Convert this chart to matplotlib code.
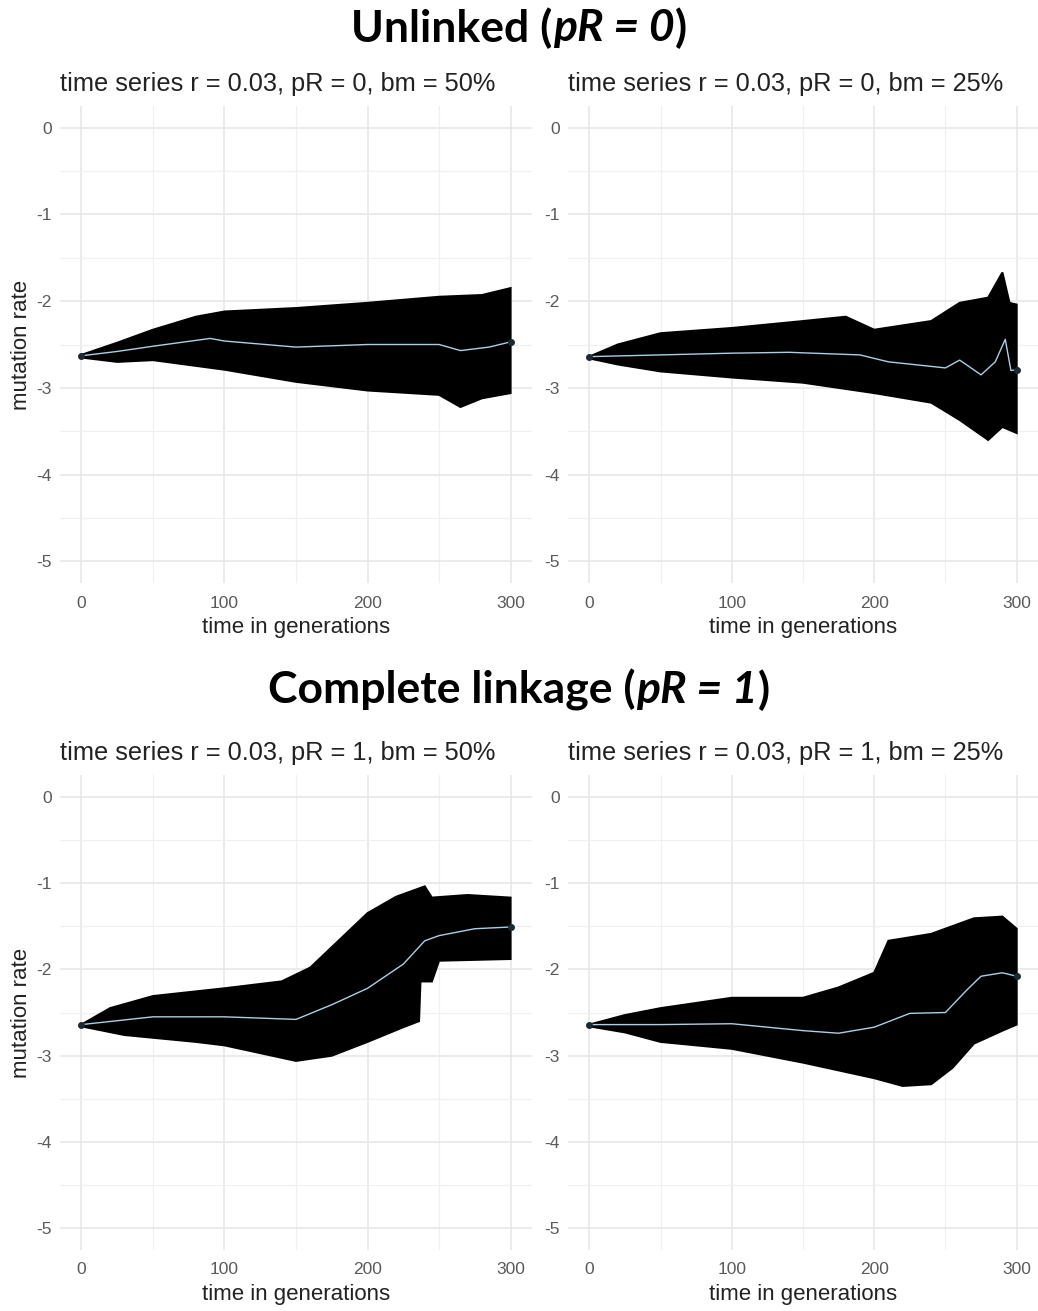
import matplotlib
matplotlib.use("Agg")
import matplotlib.pyplot as plt
import numpy as np

# ---- data ----
titles = ["time series r = 0.03, pR = 0, bm = 50%", "time series r = 0.03, pR = 0, bm = 25%",
          "time series r = 0.03, pR = 1, bm = 50%", "time series r = 0.03, pR = 1, bm = 25%"]

# panel 1: pR = 0, bm = 50%
p1_mean_x = [0, 25, 50, 90, 100, 150, 200, 250, 265, 285, 300]
p1_mean_y = [-2.63, -2.58, -2.52, -2.43, -2.46, -2.53, -2.50, -2.50, -2.57, -2.53, -2.47]
p1_up_x = [0, 25, 50, 80, 100, 150, 200, 250, 280, 300]
p1_up_y = [-2.62, -2.48, -2.33, -2.18, -2.12, -2.08, -2.02, -1.95, -1.93, -1.85]
p1_lo_x = [0, 25, 50, 100, 150, 200, 250, 265, 280, 300]
p1_lo_y = [-2.65, -2.70, -2.68, -2.79, -2.93, -3.03, -3.08, -3.22, -3.12, -3.06]

# panel 2: pR = 0, bm = 25%
p2_mean_x = [0, 50, 100, 140, 190, 210, 250, 260, 275, 285, 292, 296, 300]
p2_mean_y = [-2.64, -2.62, -2.60, -2.59, -2.62, -2.70, -2.77, -2.68, -2.85, -2.70, -2.44, -2.80, -2.79]
p2_up_x = [0, 20, 50, 100, 150, 180, 200, 240, 260, 280, 290, 295, 300]
p2_up_y = [-2.64, -2.50, -2.37, -2.31, -2.23, -2.18, -2.33, -2.23, -2.02, -1.96, -1.67, -2.02, -2.04]
p2_lo_x = [0, 20, 50, 100, 150, 200, 240, 260, 280, 290, 300]
p2_lo_y = [-2.66, -2.73, -2.81, -2.88, -2.94, -3.06, -3.17, -3.37, -3.60, -3.45, -3.52]

# panel 3: pR = 1, bm = 50%
p3_mean_x = [0, 50, 100, 150, 175, 200, 225, 240, 250, 275, 300]
p3_mean_y = [-2.64, -2.55, -2.55, -2.58, -2.41, -2.22, -1.94, -1.67, -1.61, -1.53, -1.51]
p3_up_x = [0, 20, 50, 100, 140, 160, 200, 220, 240, 245, 270, 300]
p3_up_y = [-2.64, -2.45, -2.31, -2.22, -2.14, -1.98, -1.35, -1.16, -1.04, -1.17, -1.14, -1.17]
p3_lo_x = [0, 30, 80, 100, 150, 175, 200, 225, 236, 237, 245, 250, 300]
p3_lo_y = [-2.66, -2.76, -2.84, -2.88, -3.06, -3.00, -2.84, -2.67, -2.60, -2.14, -2.14, -1.90, -1.88]

# panel 4: pR = 1, bm = 25%
p4_mean_x = [0, 50, 100, 150, 175, 200, 225, 250, 265, 275, 290, 300]
p4_mean_y = [-2.64, -2.64, -2.63, -2.71, -2.74, -2.67, -2.51, -2.50, -2.24, -2.08, -2.04, -2.08]
p4_up_x = [0, 25, 50, 100, 150, 175, 200, 210, 240, 270, 290, 300]
p4_up_y = [-2.64, -2.53, -2.45, -2.33, -2.33, -2.21, -2.04, -1.67, -1.59, -1.41, -1.39, -1.53]
p4_lo_x = [0, 25, 50, 100, 150, 200, 220, 240, 255, 270, 290, 300]
p4_lo_y = [-2.66, -2.73, -2.84, -2.92, -3.08, -3.26, -3.35, -3.33, -3.14, -2.86, -2.71, -2.64]

panels = [
    (p1_mean_x, p1_mean_y, p1_up_x, p1_up_y, p1_lo_x, p1_lo_y),
    (p2_mean_x, p2_mean_y, p2_up_x, p2_up_y, p2_lo_x, p2_lo_y),
    (p3_mean_x, p3_mean_y, p3_up_x, p3_up_y, p3_lo_x, p3_lo_y),
    (p4_mean_x, p4_mean_y, p4_up_x, p4_up_y, p4_lo_x, p4_lo_y),
]

W, H = 1038, 1311
fig = plt.figure(figsize=(W / 100, H / 100), dpi=100)
plt.rcParams['font.family'] = ['Liberation Sans', 'DejaVu Sans']
plt.rcParams['axes.unicode_minus'] = False

# axes boxes in pixels: left, right, top, bottom
boxes = [(60, 532, 106, 583), (568, 1038, 106, 583),
         (60, 532, 775, 1250), (568, 1038, 775, 1250)]

for i, (box, data) in enumerate(zip(boxes, panels)):
    l, r, t, b = box
    ax = fig.add_axes([l / W, 1 - b / H, (r - l) / W, (b - t) / H])
    mx, my, ux, uy, lx, ly = data
    ax.set_xlim(-15, 315)
    ax.set_ylim(-5.25, 0.25)
    # black band
    ax.fill(list(ux) + list(lx[::-1]), list(uy) + list(ly[::-1]), color="black", lw=1.5, ec="black", zorder=2)
    ax.plot(mx, my, color="#a8d0e6", lw=1, zorder=3)
    ax.plot([mx[0], mx[-1]], [my[0], my[-1]], "o", color="#1a2a33", ms=4, zorder=4)

    ax.set_xticks([0, 100, 200, 300])
    ax.set_xticks([50, 150, 250], minor=True)
    ax.set_yticks([-5, -4, -3, -2, -1, 0])
    ax.set_yticks([-4.5, -3.5, -2.5, -1.5, -0.5], minor=True)
    ax.grid(True, which="major", color="#e8e8e8", lw=1.2)
    ax.grid(True, which="minor", color="#f0f0f0", lw=0.9)
    ax.set_axisbelow(True)
    for s in ax.spines.values():
        s.set_visible(False)
    ax.tick_params(which="both", length=0, labelsize=12.5, labelcolor="#5a5a5a")
    ax.tick_params(axis="x", pad=9)
    ax.tick_params(axis="y", pad=6)
    ax.set_xlabel("time in generations", fontsize=16, labelpad=5, color="#222222")
    if i % 2 == 0:
        ax.set_ylabel("mutation rate", fontsize=16, labelpad=3, color="#222222")
    ax.set_title(titles[i], fontsize=18.3, loc="left", pad=11, color="#222222")

# big headings with italic part
def heading(y, pre, it, post):
    size = 32
    fam = ["Lato", "DejaVu Sans"]
    r = fig.canvas.get_renderer()
    parts = [(pre, "normal"), (it, "italic"), (post, "normal")]
    objs = []
    for txt, st in parts:
        objs.append(fig.text(0, y, txt, fontsize=size, fontweight="bold", style=st,
                             family=fam, va="center", ha="left"))
    widths = [o.get_window_extent(renderer=r).width for o in objs]
    x = (W / 2 - sum(widths) / 2)
    for o, w in zip(objs, widths):
        o.set_x(x / W)
        x += w

heading(1 - 28 / H, "Unlinked (", "pR = 0", ")")
heading(1 - 690 / H, "Complete linkage (", "pR = 1", ")")

fig.savefig("out.png", dpi=100)
